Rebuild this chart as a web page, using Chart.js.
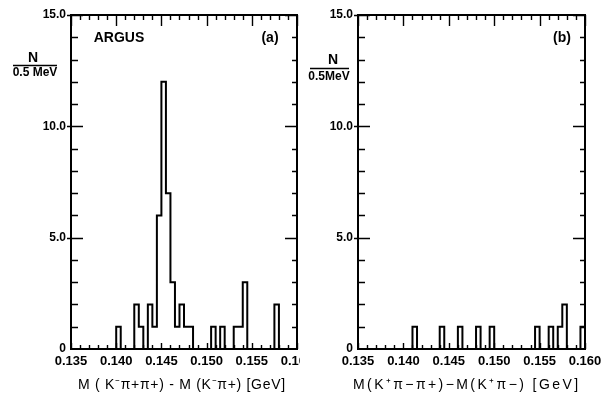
<!DOCTYPE html>
<html><head><meta charset="utf-8">
<script src="https://cdn.jsdelivr.net/npm/chart.js@4/dist/chart.umd.min.js"></script>
<style>
html,body{margin:0;padding:0;background:#fff;}
#wrap{position:relative;width:603px;height:393px;overflow:hidden;background:#fff;}
#pa{position:absolute;left:0;top:0;width:320px;height:393px;}
#pb{position:absolute;left:300px;top:0;width:303px;height:393px;background:#fff;}
canvas{display:block;}
</style></head><body>
<div id="wrap">
  <div id="pa"><canvas id="ca" width="320" height="393"></canvas></div>
  <div id="pb"><canvas id="cb" width="303" height="393"></canvas></div>
</div>
<script>
// ---- data ----
const xTickLabels = ['0.135','0.140','0.145','0.150','0.155','0.160'];
const yTickLabels = ['0','5.0','10.0','15.0'];
const binWidth = 0.0005; // GeV (0.5 MeV per bin)
const xMin = 0.135, xMax = 0.160, yMin = 0, yMax = 15;

// panel (a): left edges of non-empty bins and their counts
const binsA   = [0.1400,0.1420,0.1425,0.1435,0.1440,0.1445,0.1450,0.1455,0.1460,0.1465,0.1470,0.1475,0.1480,0.1505,0.1515,0.1530,0.1535,0.1540,0.1575];
const countsA = [1,     2,     1,     2,     1,     6,     12,    7,     3,     1,     2,     1,     1,     1,     1,     1,     1,     3,     2];
// panel (b)
const binsB   = [0.1410,0.1440,0.1460,0.1480,0.1495,0.1545,0.1560,0.1570,0.1575,0.1595];
const countsB = [1,     1,     1,     1,     1,     1,     1,     1,     2,     1];

const titleA = 'M ( K\u207B\u03C0+\u03C0+) - M (K\u207B\u03C0+) [GeV]';
const titleB = 'M(K\u207A\u03C0\u2212\u03C0+)\u2212M(K\u207A\u03C0\u2212) [GeV]';

// ---- helpers ----
function outline(bins, counts) {
  const pts = [{x: xMin, y: 0}];
  for (let i = 0; i < bins.length; i++) {
    pts.push({x: bins[i], y: counts[i]});
    const r = bins[i] + binWidth;
    if (i === bins.length - 1 || Math.abs(bins[i + 1] - r) > 1e-7) pts.push({x: r, y: 0});
  }
  pts.push({x: xMax, y: 0});
  return pts;
}
const findLabel = (arr, v) => arr.find(l => Math.abs(parseFloat(l) - v) < 1e-7) || '';
const FONT = "'Liberation Sans', Arial, sans-serif";

const framePlugin = {
  id: 'frame',
  afterDraw(chart, args, opts) {
    const {ctx, chartArea: {left, right, top, bottom}, scales: {x, y}} = chart;
    ctx.save();
    ctx.strokeStyle = '#000';
    ctx.lineWidth = 2;
    ctx.strokeRect(left, top, right - left, bottom - top);
    ctx.lineWidth = 1.4;
    ctx.beginPath();
    x.ticks.forEach(t => {
      const px = Math.round(x.getPixelForValue(t.value)) + 0.5;
      const major = findLabel(xTickLabels, t.value) !== '';
      ctx.moveTo(px, top); ctx.lineTo(px, top + (major ? 11 : 5));
      ctx.moveTo(px, bottom); ctx.lineTo(px, bottom - (major ? 6 : 4));
    });
    y.ticks.forEach(t => {
      const py = Math.round(y.getPixelForValue(t.value)) + 0.5;
      const major = findLabel(yTickLabels, t.value) !== '';
      if (t.value === yMin) return;
      ctx.moveTo(left - (major ? 4 : 0), py); ctx.lineTo(left + (major ? 12 : 7), py);
      ctx.moveTo(right, py); ctx.lineTo(right - (major ? 12 : 5), py);
    });
    ctx.stroke();
    // annotations
    ctx.fillStyle = '#000';
    ctx.textAlign = 'center';
    ctx.textBaseline = 'middle';
    (opts.texts || []).forEach(t => {
      ctx.font = t.font;
      ctx.fillText(t.text, t.x, t.y);
    });
    if (opts.frac) {
      const f = opts.frac;
      ctx.font = 'bold 14px ' + FONT;
      ctx.fillText(f.num, f.nx, f.ny);
      ctx.lineWidth = 1.6;
      ctx.beginPath(); ctx.moveTo(f.x1, f.ly); ctx.lineTo(f.x2, f.ly); ctx.stroke();
      ctx.font = 'bold 12px ' + FONT;
      ctx.fillText(f.den, f.dx, f.dy);
    }
    if (opts.xTitle) {
      const t = opts.xTitle;
      ctx.font = '14px ' + FONT;
      ctx.letterSpacing = '0px';
      const w = ctx.measureText(t.text).width;
      const n = [...t.text].length;
      const sp = Math.max(0, (t.width - w) / (n - 1));
      ctx.letterSpacing = sp.toFixed(2) + 'px';
      ctx.textAlign = 'left';
      ctx.fillText(t.text, t.cx - t.width / 2, t.cy);
    }
    ctx.restore();
  }
};

function makeChart(id, bins, counts, yAxisWidth, rightPad, pluginOpts) {
  return new Chart(document.getElementById(id), {
    type: 'line',
    data: {datasets: [{
      data: outline(bins, counts),
      stepped: 'before',
      borderColor: '#000',
      borderWidth: 2,
      pointRadius: 0,
      fill: false,
      clip: 4
    }]},
    options: {
      responsive: false,
      animation: false,
      layout: {padding: {left: 0, top: 15, right: rightPad, bottom: 0}},
      plugins: {legend: {display: false}, tooltip: {enabled: false}, frame: pluginOpts},
      scales: {
        x: {
          type: 'linear', min: xMin, max: xMax,
          grid: {display: false, drawTicks: false}, border: {display: false},
          afterFit: s => { s.height = 44; s.paddingLeft = 0; s.paddingRight = 0; },
          ticks: {
            stepSize: 0.001, autoSkip: false, maxRotation: 0, padding: 5,
            color: '#000', font: {family: FONT, size: 13, weight: 'bold'},
            callback: v => findLabel(xTickLabels, v)
          }
        },
        y: {
          type: 'linear', min: yMin, max: yMax,
          grid: {display: false, drawTicks: false}, border: {display: false},
          afterFit: s => { s.width = yAxisWidth; s.paddingTop = 0; s.paddingBottom = 0; },
          ticks: {
            stepSize: 1, autoSkip: false, padding: 5,
            color: '#000', font: {family: FONT, size: 12, weight: 'bold'},
            callback: v => findLabel(yTickLabels, v)
          }
        }
      }
    },
    plugins: [framePlugin]
  });
}

makeChart('ca', binsA, countsA, 71, 23, {
  texts: [
    {text: 'ARGUS', x: 119, y: 38, font: 'bold 14px ' + FONT},
    {text: '(a)', x: 270, y: 38, font: 'bold 14px ' + FONT}
  ],
  frac: {num: 'N', nx: 33, ny: 58, x1: 13, x2: 57, ly: 65.5, den: '0.5 MeV', dx: 35, dy: 73},
  xTitle: {text: titleA, cx: 181.5, cy: 385, width: 207}
});
makeChart('cb', binsB, countsB, 58, 18, {
  texts: [
    {text: '(b)', x: 262, y: 38, font: 'bold 14px ' + FONT}
  ],
  frac: {num: 'N', nx: 33, ny: 60, x1: 10, x2: 49, ly: 68.5, den: '0.5MeV', dx: 29, dy: 77},
  xTitle: {text: titleB, cx: 165.5, cy: 385, width: 225}
});
</script>
</body></html>
